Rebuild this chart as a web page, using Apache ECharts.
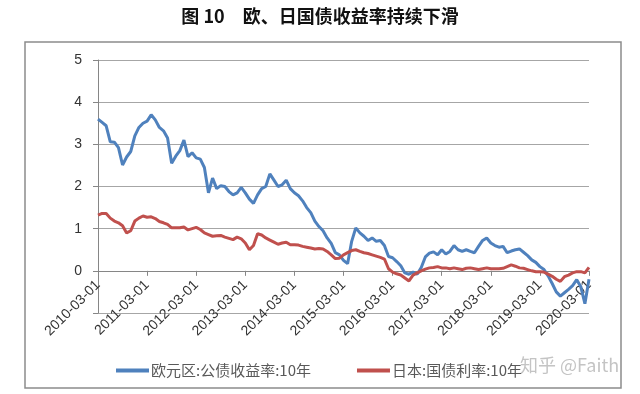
<!DOCTYPE html>
<html>
<head>
<meta charset="utf-8">
<script src="https://cdn.jsdelivr.net/npm/echarts@6/dist/echarts.min.js"></script>
<style>
html,body{margin:0;padding:0;background:#fff;}
#chart{width:640px;height:394px;}
</style>
</head>
<body>
<div id="chart"></div>
<script>
const titleText = '图 10　欧、日国债收益率持续下滑';
const seriesNames = ['欧元区:公债收益率:10年', '日本:国债利率:10年'];
const yTicks = [-1, 0, 1, 2, 3, 4, 5];

// Monthly categories 2010-03 .. 2020-03
const categories = [];
for (let y = 2010; y <= 2020; y++) {
  for (let m = 1; m <= 12; m++) {
    if ((y === 2010 && m < 3) || (y === 2020 && m > 3)) continue;
    categories.push(y + '-' + String(m).padStart(2, '0') + '-01');
  }
}

const euroYield = [
  3.60, 3.52, 3.44, 3.06, 3.05, 2.92, 2.51, 2.70, 2.83, 3.20, 3.40, 3.50,
  3.55, 3.70, 3.58, 3.40, 3.32, 3.15, 2.55, 2.72, 2.85, 3.10, 2.71, 2.80,
  2.68, 2.65, 2.45, 1.85, 2.20, 1.95, 2.02, 2.00, 1.88, 1.80, 1.85, 1.98,
  1.85, 1.70, 1.60, 1.80, 1.95, 2.00, 2.30, 2.15, 2.00, 2.04, 2.15, 1.95,
  1.85, 1.78, 1.66, 1.50, 1.38, 1.18, 1.05, 0.95, 0.78, 0.65, 0.43, 0.38,
  0.25, 0.17, 0.70, 1.02, 0.90, 0.82, 0.72, 0.78, 0.70, 0.72, 0.60, 0.34,
  0.31, 0.22, 0.12, -0.05, -0.08, -0.03, -0.08, 0.08, 0.33, 0.42, 0.45, 0.38,
  0.50, 0.40, 0.46, 0.60, 0.50, 0.46, 0.50, 0.46, 0.43, 0.58, 0.72, 0.78,
  0.66, 0.60, 0.56, 0.58, 0.43, 0.47, 0.50, 0.52, 0.44, 0.36, 0.26, 0.20,
  0.10, 0.03, -0.12, -0.30, -0.50, -0.60, -0.52, -0.44, -0.35, -0.21, -0.38, -0.78,
  -0.20
];

const japanYield = [
  1.32, 1.36, 1.36, 1.25, 1.18, 1.14, 1.07, 0.90, 0.95, 1.18, 1.25, 1.30,
  1.27, 1.28, 1.24, 1.17, 1.14, 1.10, 1.02, 1.02, 1.02, 1.04, 0.97, 1.00,
  1.03, 0.98, 0.90, 0.86, 0.82, 0.83, 0.84, 0.80, 0.77, 0.74, 0.80, 0.76,
  0.66, 0.50, 0.60, 0.88, 0.85, 0.78, 0.73, 0.68, 0.63, 0.66, 0.68, 0.62,
  0.62, 0.61, 0.58, 0.56, 0.54, 0.52, 0.53, 0.52, 0.46, 0.38, 0.29, 0.30,
  0.38, 0.43, 0.48, 0.50, 0.46, 0.43, 0.41, 0.38, 0.35, 0.32, 0.28, 0.05,
  -0.03, -0.07, -0.10, -0.17, -0.24, -0.10, -0.05, 0.00, 0.04, 0.07, 0.08, 0.10,
  0.07, 0.07, 0.05, 0.07, 0.05, 0.03, 0.06, 0.07, 0.05, 0.03, 0.05, 0.07,
  0.05, 0.05, 0.05, 0.06, 0.10, 0.14, 0.11, 0.07, 0.06, 0.03, 0.00, -0.02,
  -0.02, -0.03, -0.08, -0.13, -0.20, -0.25, -0.14, -0.10, -0.05, -0.02, -0.02, -0.05,
  0.08
];

const chart = echarts.init(document.getElementById('chart'), null, {renderer: 'canvas'});
const isYearTick = (idx, val) => val.slice(5, 7) === '03';
const gridTop = 60, gridBottom = 81, chartH = 394;
const plotH = chartH - gridTop - gridBottom;
const zeroOffset = -plotH * (0 - yTicks[0]) / (yTicks[yTicks.length - 1] - yTicks[0]);

chart.setOption({
  animation: false,
  backgroundColor: '#fff',
  title: {
    text: titleText,
    left: 'center',
    top: 2,
    textStyle: {fontSize: 18, fontWeight: 'bold', color: '#111', fontFamily: 'Noto Sans CJK SC'}
  },
  graphic: [
    {
      type: 'rect',
      shape: {x: 25, y: 42, width: 596, height: 346},
      style: {fill: 'none', stroke: '#8c8c8c', lineWidth: 1.5},
      silent: true, z: -1
    },
    {
      type: 'text',
      left: 520, top: 356,
      style: {text: '知乎 @Faith', fill: '#c4c4c4', font: '18px "Noto Sans CJK SC"'},
      z: 100
    }
  ],
  legend: {
    data: seriesNames,
    left: 111,
    top: 358,
    icon: 'rect',
    itemWidth: 33,
    itemHeight: 4,
    itemGap: 46,
    textStyle: {fontSize: 15, color: '#595959', fontFamily: 'Noto Sans CJK SC', padding: [0, 0, 0, -3]}
  },
  grid: {left: 98, right: 51, top: gridTop, bottom: gridBottom, containLabel: false},
  xAxis: {
    type: 'category',
    data: categories,
    boundaryGap: false,
    offset: zeroOffset,
    axisLine: {onZero: false, lineStyle: {color: '#868686', width: 1}},
    axisTick: {show: true, interval: isYearTick, length: 5, lineStyle: {color: '#868686'}},
    axisLabel: {
      interval: isYearTick,
      rotate: 45,
      margin: 12,
      fontSize: 14,
      color: '#333',
      fontFamily: 'Liberation Sans'
    },
    splitLine: {show: false}
  },
  yAxis: {
    type: 'value',
    min: yTicks[0],
    max: yTicks[yTicks.length - 1],
    interval: 1,
    axisLine: {show: true, lineStyle: {color: '#868686'}},
    axisTick: {show: true, length: 5, lineStyle: {color: '#868686'}},
    axisLabel: {
      margin: 16,
      fontSize: 14,
      color: '#333',
      fontFamily: 'Liberation Sans',
      formatter: v => (v < 0 ? '' : String(v))
    },
    splitLine: {show: true, lineStyle: {color: '#a6a6a6', width: 1}}
  },
  series: [
    {
      name: seriesNames[0],
      type: 'line',
      data: euroYield,
      showSymbol: false,
      lineStyle: {color: '#4F81BD', width: 3},
      itemStyle: {color: '#4F81BD'},
      z: 3
    },
    {
      name: seriesNames[1],
      type: 'line',
      data: japanYield,
      showSymbol: false,
      lineStyle: {color: '#C0504D', width: 3},
      itemStyle: {color: '#C0504D'},
      z: 4
    }
  ]
});
</script>
</body>
</html>
